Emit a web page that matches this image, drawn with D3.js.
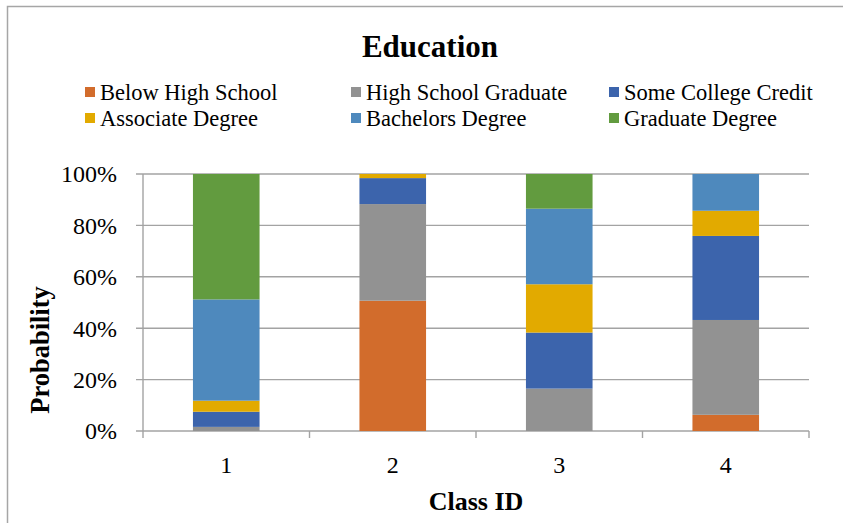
<!DOCTYPE html>
<html>
<head>
<meta charset="utf-8">
<script src="https://d3js.org/d3.v7.min.js"></script>
<style>
  body { margin: 0; background: #fff; }
  text { font-family: "Liberation Serif", "Times New Roman", serif; fill: #000; }
</style>
</head>
<body>
<div id="chart"></div>
<script>
var classes = ["1", "2", "3", "4"];
var series = ["Below High School", "High School Graduate", "Some College Credit",
              "Associate Degree", "Bachelors Degree", "Graduate Degree"];
var colors = ["#d26c2c", "#929292", "#3c64ac", "#e2aa00", "#4e89bd", "#629b3f"];
// share of each class (percent), one array per series
var belowHS    = [0,    50.7, 0,    6.3];
var hsGrad     = [1.6,  37.6, 16.5, 36.9];
var someCol    = [5.9,  10.1, 21.8, 32.7];
var associate  = [4.3,  1.6,  18.8, 9.8];
var bachelors  = [39.4, 0,    29.4, 14.3];
var graduate   = [48.8, 0,    13.5, 0];
var yTicks = [0, 20, 40, 60, 80, 100];

var width = 843, height = 523;
var margin = {top: 174, right: 34, bottom: 92, left: 143};

var svg = d3.select("#chart").append("svg")
  .attr("width", width)
  .attr("height", height);

// outer frame
svg.append("rect")
  .attr("x", 7.5).attr("y", 6.5)
  .attr("width", width).attr("height", height)
  .attr("fill", "none").attr("stroke", "#a6a6a6").attr("stroke-width", 1.5);

var rows = classes.map(function(c, i) {
  return {cls: c,
    "Below High School": belowHS[i],
    "High School Graduate": hsGrad[i],
    "Some College Credit": someCol[i],
    "Associate Degree": associate[i],
    "Bachelors Degree": bachelors[i],
    "Graduate Degree": graduate[i]};
});
// normalise to 100%
rows.forEach(function(r) {
  var tot = d3.sum(series, function(s) { return r[s]; });
  series.forEach(function(s) { r[s] = r[s] / tot * 100; });
});
var stacked = d3.stack().keys(series)(rows);

var x = d3.scaleBand().domain(classes)
  .range([margin.left, width - margin.right]).padding(0);
var y = d3.scaleLinear().domain([0, 100])
  .range([height - margin.bottom, margin.top]);
var color = d3.scaleOrdinal().domain(series).range(colors);

// gridlines
svg.append("g")
  .selectAll("line").data(yTicks).enter().append("line")
  .attr("x1", margin.left - 7).attr("x2", width - margin.right)
  .attr("y1", function(d) { return y(d); })
  .attr("y2", function(d) { return y(d); })
  .attr("stroke", "#a3a3a3").attr("stroke-width", 1.4);

// y axis line
svg.append("line")
  .attr("x1", margin.left).attr("x2", margin.left)
  .attr("y1", y(100)).attr("y2", y(0) + 7)
  .attr("stroke", "#a3a3a3").attr("stroke-width", 1.4);

// x tick marks at category boundaries
var bounds = classes.map(function(c) { return x(c); }).concat([x(classes[3]) + x.bandwidth()]);
svg.append("g").selectAll("line").data(bounds.slice(1)).enter().append("line")
  .attr("x1", function(d) { return d; }).attr("x2", function(d) { return d; })
  .attr("y1", y(0)).attr("y2", y(0) + 7)
  .attr("stroke", "#a3a3a3").attr("stroke-width", 1.4);

// bars
var barW = x.bandwidth() * 0.4;
svg.append("g").selectAll("g").data(stacked).enter().append("g")
  .attr("fill", function(d) { return color(d.key); })
  .selectAll("rect").data(function(d) { return d; }).enter().append("rect")
  .attr("x", function(d) { return x(d.data.cls) + (x.bandwidth() - barW) / 2; })
  .attr("width", barW)
  .attr("y", function(d) { return y(d[1]); })
  .attr("height", function(d) { return y(d[0]) - y(d[1]); });

// y tick labels
svg.append("g").selectAll("text").data(yTicks).enter().append("text")
  .attr("x", 117).attr("y", function(d) { return y(d); })
  .attr("dy", "0.35em").attr("text-anchor", "end")
  .style("font-size", "24px")
  .text(function(d) { return d + "%"; });

// x tick labels
svg.append("g").selectAll("text").data(classes).enter().append("text")
  .attr("x", function(d) { return x(d) + x.bandwidth() / 2; })
  .attr("y", 473).attr("text-anchor", "middle")
  .style("font-size", "24px")
  .text(function(d) { return d; });

// axis titles
svg.append("text")
  .attr("x", (margin.left + width - margin.right) / 2).attr("y", 510)
  .attr("text-anchor", "middle")
  .style("font-size", "26px").style("font-weight", "bold")
  .text("Class ID");

svg.append("text")
  .attr("transform", "translate(49,350) rotate(-90)")
  .attr("text-anchor", "middle")
  .style("font-size", "26.5px").style("font-weight", "bold")
  .text("Probability");

// title
svg.append("text")
  .attr("x", 430).attr("y", 57).attr("text-anchor", "middle")
  .style("font-size", "31px").style("font-weight", "bold")
  .text("Education");

// legend
var legX = [85, 351, 609];
var legY = [92, 118];
var leg = svg.append("g").selectAll("g").data(series).enter().append("g")
  .attr("transform", function(d, i) {
    return "translate(" + legX[i % 3] + "," + legY[Math.floor(i / 3)] + ")";
  });
leg.append("rect")
  .attr("x", 0).attr("y", -5).attr("width", 10).attr("height", 10)
  .attr("fill", function(d) { return color(d); });
leg.append("text")
  .attr("x", 15).attr("dy", "0.35em")
  .style("font-size", "22.5px")
  .text(function(d) { return d; });
</script>
</body>
</html>
